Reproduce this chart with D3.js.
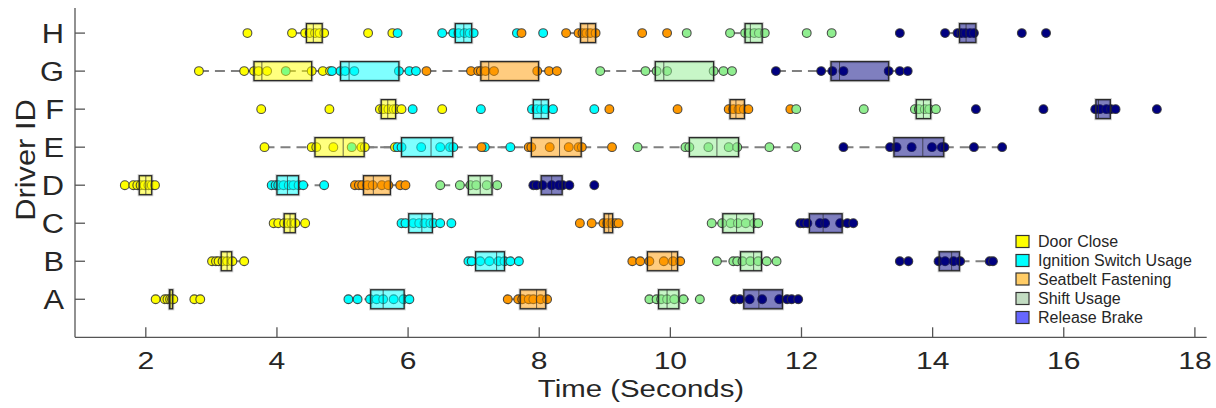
<!DOCTYPE html>
<html>
<head>
<meta charset="utf-8">
<script src="https://cdn.jsdelivr.net/npm/d3@7"></script>
<style>
  html, body { margin: 0; padding: 0; background: #fff; }
  svg { display: block; font-family: "Liberation Sans", Arial, Helvetica, sans-serif; }
</style>
</head>
<body>
<svg id="chart" width="1216" height="408"></svg>
<script>
const drivers = ["A", "B", "C", "D", "E", "F", "G", "H"];
const events = ["Door Close", "Ignition Switch Usage", "Seatbelt Fastening", "Shift Usage", "Release Brake"];
const xTicks = [2, 4, 6, 8, 10, 12, 14, 16, 18];

// Point data per driver (A..H), seconds
const doorClose = [
  [2.15, 2.29, 2.33, 2.37, 2.40, 2.42, 2.74, 2.83],
  [3.01, 3.07, 3.11, 3.17, 3.24, 3.32, 3.50],
  [3.95, 4.02, 4.11, 4.17, 4.22, 4.28, 4.43],
  [1.68, 1.81, 1.87, 1.92, 1.98, 2.04, 2.09, 2.14],
  [3.81, 4.53, 4.60, 4.86, 5.29, 5.34, 5.80],
  [3.76, 4.80, 5.57, 5.62, 5.70, 5.78, 5.82, 5.90, 6.52],
  [2.81, 3.50, 3.65, 3.72, 3.85, 4.53, 4.70, 4.81],
  [3.55, 4.23, 4.43, 4.50, 4.58, 4.65, 4.72, 5.39, 5.76]
];
const ignition = [
  [5.09, 5.23, 5.42, 5.52, 5.62, 5.78, 5.93, 6.02],
  [6.92, 6.97, 7.10, 7.24, 7.38, 7.47, 7.56, 7.69],
  [5.90, 5.96, 6.08, 6.17, 6.25, 6.34, 6.39, 6.49, 6.66],
  [3.92, 3.98, 4.02, 4.10, 4.18, 4.25, 4.33, 4.40, 4.72],
  [5.14, 5.84, 5.90, 6.20, 6.49, 6.64, 6.69, 7.17, 7.56],
  [6.07, 7.11, 7.89, 7.96, 8.03, 8.10, 8.21, 8.84],
  [4.135, 4.84, 4.97, 5.04, 5.18, 5.86, 6.02, 6.12],
  [5.84, 6.52, 6.69, 6.77, 6.86, 6.94, 7.00, 7.66, 8.06]
];
const seatbelt = [
  [7.52, 7.68, 7.74, 7.84, 7.91, 8.02, 8.12],
  [9.42, 9.54, 9.68, 9.90, 10.04, 10.15],
  [8.62, 8.80, 8.98, 9.04, 9.10, 9.16, 9.21],
  [5.19, 5.25, 5.30, 5.38, 5.46, 5.60, 5.70, 5.88, 5.96],
  [7.12, 7.84, 7.88, 8.16, 8.45, 8.60, 8.65, 9.11],
  [9.07, 10.11, 10.89, 10.96, 11.04, 11.12, 11.19, 11.83],
  [6.28, 6.96, 7.07, 7.11, 7.18, 7.31, 7.97, 8.15, 8.27],
  [7.73, 8.41, 8.60, 8.66, 8.72, 8.78, 8.86, 9.57, 9.95]
];
const shift = [
  [9.68, 9.79, 9.86, 9.95, 10.06, 10.20, 10.45],
  [10.71, 10.96, 11.02, 11.10, 11.22, 11.34, 11.47, 11.62],
  [10.63, 10.79, 10.92, 11.03, 11.15, 11.28, 11.34],
  [6.49, 6.79, 6.95, 7.04, 7.20, 7.36],
  [9.50, 10.23, 10.29, 10.58, 10.89, 11.02, 11.51, 11.92],
  [11.92, 12.95, 13.73, 13.79, 13.88, 13.95, 14.05],
  [8.93, 9.62, 9.79, 9.95, 10.66, 10.81, 10.94],
  [10.25, 10.91, 11.14, 11.20, 11.28, 11.35, 11.44, 12.08, 12.46]
];
const releaseBrake = [
  [10.98, 11.06, 11.21, 11.40, 11.66, 11.78, 11.85, 11.95],
  [13.50, 13.63, 14.09, 14.19, 14.32, 14.42, 14.87, 14.92],
  [11.98, 12.03, 12.09, 12.28, 12.36, 12.59, 12.70, 12.79],
  [7.91, 7.96, 8.05, 8.19, 8.30, 8.36, 8.46, 8.84],
  [12.64, 13.35, 13.45, 13.68, 13.99, 14.14, 14.18, 14.63, 15.06],
  [14.66, 15.69, 16.48, 16.55, 16.65, 16.72, 16.79, 17.42],
  [11.61, 12.30, 12.47, 12.64, 13.33, 13.50, 13.62],
  [13.50, 14.19, 14.38, 14.44, 14.50, 14.57, 14.63, 15.36, 15.73]
];

// Box statistics per driver (A..H): [q1, median, q3]
const doorCloseBox = [[2.36, 2.38, 2.41], [3.15, 3.24, 3.31], [4.11, 4.20, 4.28], [1.90, 2.00, 2.09],
  [4.58, 5.01, 5.33], [5.59, 5.69, 5.81], [3.65, 3.77, 4.53], [4.45, 4.555, 4.69]];
const ignitionBox = [[5.43, 5.62, 5.94], [7.03, 7.35, 7.47], [6.01, 6.21, 6.37], [4.00, 4.16, 4.33],
  [5.90, 6.35, 6.68], [7.91, 8.03, 8.14], [4.97, 5.10, 5.86], [6.72, 6.85, 6.97]];
const seatbeltBox = [[7.71, 7.96, 8.10], [9.65, 10.02, 10.11], [8.99, 9.06, 9.12], [5.32, 5.47, 5.73],
  [7.88, 8.31, 8.64], [10.91, 11.00, 11.13], [7.11, 7.23, 7.99], [8.63, 8.74, 8.86]];
const shiftBox = [[9.82, 9.95, 10.13], [11.07, 11.27, 11.39], [10.80, 11.01, 11.27], [6.92, 7.10, 7.28],
  [10.29, 10.71, 11.04], [13.75, 13.86, 13.97], [9.77, 9.90, 10.66], [11.14, 11.22, 11.40]];
const releaseBrakeBox = [[11.12, 11.35, 11.71], [14.10, 14.29, 14.41], [12.12, 12.33, 12.62], [8.03, 8.19, 8.35],
  [13.41, 13.85, 14.17], [16.49, 16.53, 16.71], [12.45, 12.58, 13.33], [14.41, 14.51, 14.66]];

const pointColors = ["#ffff00", "#00ffff", "#ff9900", "#90ee90", "#000080"];
const legendColors = ["#ffff00", "#00ffff", "#ffcc66", "#c2dcc2", "#6666ff"];

const seriesPoints = [doorClose, ignition, seatbelt, shift, releaseBrake];
const seriesBoxes = [doorCloseBox, ignitionBox, seatbeltBox, shiftBox, releaseBrakeBox];

const svg = d3.select("#chart");
const plotLeft = 75, plotRight = 1206.7, plotTop = 8, plotBottom = 337.3;
const x = d3.scaleLinear().domain([0.92, 18.18]).range([plotLeft, plotRight]);
const y = d3.scaleLinear().domain([0, 8.66]).range([plotBottom, plotTop]);
const textColor = "#262626";

// Build per-event, per-driver records
const records = [];
events.forEach((ev, ei) => {
  drivers.forEach((d, di) => {
    const pts = seriesPoints[ei][di];
    const [q1, med, q3] = seriesBoxes[ei][di];
    const iqr = q3 - q1;
    const inside = pts.filter(v => v >= q1 - 1.5 * iqr && v <= q3 + 1.5 * iqr);
    const wLo = Math.min(q1, d3.min(inside));
    const wHi = Math.max(q3, d3.max(inside));
    records.push({ ev, ei, d, di, pts, q1, med, q3, wLo, wHi });
  });
});

const yPos = r => y(r.di + 1);
const boxH = 19;

// whiskers
const gW = svg.append("g");
records.forEach(r => {
  [[r.wLo, r.q1], [r.q3, r.wHi]].forEach(([a, b]) => {
    if (b - a <= 0) return;
    gW.append("line")
      .attr("x1", x(a)).attr("x2", x(b))
      .attr("y1", yPos(r)).attr("y2", yPos(r))
      .attr("stroke", "#808080").attr("stroke-width", 2)
      .attr("stroke-dasharray", "10,6");
  });
});

// points
const gP = svg.append("g");
records.forEach(r => {
  gP.selectAll(null).data(r.pts).enter().append("circle")
    .attr("cx", v => x(v)).attr("cy", yPos(r)).attr("r", 4.4)
    .attr("fill", pointColors[r.ei])
    .attr("stroke", "#333").attr("stroke-width", 1.1)
    .attr("stroke-opacity", 0.85);
});

// boxes
const gB = svg.append("g");
records.forEach(r => {
  gB.append("rect")
    .attr("x", x(r.q1)).attr("y", yPos(r) - boxH / 2)
    .attr("width", Math.max(1, x(r.q3) - x(r.q1))).attr("height", boxH)
    .attr("fill", "none")
    .attr("stroke", "#000").attr("stroke-opacity", 0.18).attr("stroke-width", 3.2);
  gB.append("rect")
    .attr("x", x(r.q1)).attr("y", yPos(r) - boxH / 2)
    .attr("width", Math.max(1, x(r.q3) - x(r.q1))).attr("height", boxH)
    .attr("fill", pointColors[r.ei]).attr("fill-opacity", 0.5)
    .attr("stroke", "#2a2a2a").attr("stroke-width", 1.3);
  gB.append("line")
    .attr("x1", x(r.med)).attr("x2", x(r.med))
    .attr("y1", yPos(r) - boxH / 2).attr("y2", yPos(r) + boxH / 2)
    .attr("stroke", "#2a2a2a").attr("stroke-width", 1).attr("stroke-opacity", 0.7);
});

// axes
const gA = svg.append("g");
gA.append("line").attr("x1", plotLeft).attr("x2", plotLeft).attr("y1", plotTop).attr("y2", plotBottom)
  .attr("stroke", "#555").attr("stroke-width", 1.3);
gA.append("line").attr("x1", plotLeft).attr("x2", plotRight).attr("y1", plotBottom).attr("y2", plotBottom)
  .attr("stroke", "#555").attr("stroke-width", 1.3);

xTicks.forEach(t => {
  gA.append("line").attr("x1", x(t)).attr("x2", x(t)).attr("y1", plotBottom).attr("y2", plotBottom - 10)
    .attr("stroke", "#555").attr("stroke-width", 1.3);
  gA.append("text").attr("transform", `translate(${x(t)},${plotBottom + 32}) scale(1.28,1)`)
    .attr("text-anchor", "middle").attr("font-size", 23.5).attr("fill", textColor).text(t);
});
drivers.forEach((d, i) => {
  gA.append("line").attr("x1", plotLeft).attr("x2", plotLeft + 10).attr("y1", y(i + 1)).attr("y2", y(i + 1))
    .attr("stroke", "#555").attr("stroke-width", 1.3);
  gA.append("text").attr("transform", `translate(64,${y(i + 1) + 10}) scale(1.1,1)`)
    .attr("text-anchor", "end").attr("font-size", 28).attr("fill", textColor).text(d);
});

svg.append("text").attr("transform", "translate(641,397) scale(1.2,1)")
  .attr("text-anchor", "middle").attr("font-size", 24.5).attr("fill", textColor).text("Time (Seconds)");
svg.append("text").attr("transform", "translate(35,160) rotate(-90) scale(1.1,1)")
  .attr("text-anchor", "middle").attr("font-size", 28).attr("fill", textColor).text("Driver ID");

// legend
const gL = svg.append("g");
const legendY = [241.5, 260.5, 279, 298.5, 317.5];
events.forEach((ev, i) => {
  gL.append("rect").attr("x", 1016).attr("y", legendY[i] - 6).attr("width", 13).attr("height", 12)
    .attr("fill", legendColors[i]).attr("stroke", "#333").attr("stroke-width", 1.2);
  gL.append("text").attr("x", 1038).attr("y", legendY[i] + 5.5)
    .attr("font-size", 16).attr("fill", textColor).text(ev);
});
</script>
</body>
</html>
